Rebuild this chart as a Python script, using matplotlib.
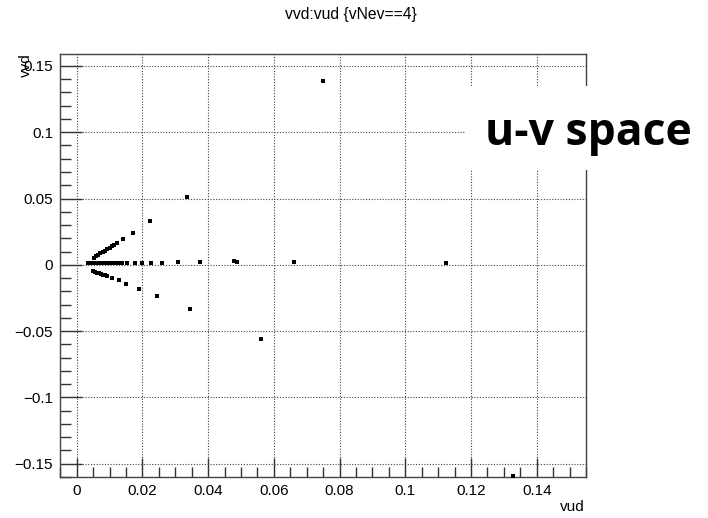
import matplotlib.pyplot as plt
from matplotlib.patches import Rectangle
from matplotlib.ticker import MultipleLocator, FuncFormatter

# points (vud on x, vvd on y)
upper_vud = [0.0051, 0.0058, 0.0065, 0.0072, 0.0079, 0.0086, 0.0093, 0.0100, 0.0107,
             0.0114, 0.0122, 0.0142, 0.0170, 0.0224, 0.0337, 0.0750]
upper_vvd = [0.0055, 0.0066, 0.0076, 0.0086, 0.0097, 0.0107, 0.0118, 0.0128, 0.0139,
             0.0149, 0.0161, 0.0194, 0.0241, 0.0327, 0.0513, 0.1390]

flat_vud = [0.0033, 0.0041, 0.0049, 0.0057, 0.0065, 0.0073, 0.0081, 0.0089, 0.0097,
            0.0105, 0.0113, 0.0121, 0.0129, 0.0137, 0.0154, 0.0177, 0.0199, 0.0225,
            0.0260, 0.0307, 0.0376, 0.0480, 0.0489, 0.0662, 0.1124]
flat_vvd = [0.0012, 0.0012, 0.0012, 0.0012, 0.0012, 0.0012, 0.0012, 0.0012, 0.0012,
            0.0012, 0.0012, 0.0012, 0.0012, 0.0012, 0.0012, 0.0012, 0.0012, 0.0012,
            0.0012, 0.0023, 0.0020, 0.0030, 0.0023, 0.0020, 0.0013]

lower_vud = [0.0050, 0.0056, 0.0062, 0.0068, 0.0074, 0.0080, 0.0086, 0.0092, 0.0107,
             0.0128, 0.0151, 0.0188, 0.0244, 0.0345, 0.0561, 0.1329]
lower_vvd = [-0.0050, -0.0055, -0.0060, -0.0065, -0.0070, -0.0075, -0.0080, -0.0085,
             -0.0103, -0.0118, -0.0143, -0.0181, -0.0234, -0.0330, -0.0556, -0.1590]

title = "vvd:vud {vNev==4}"
overlay = "u-v space"

plt.rcParams['font.family'] = ['Liberation Sans', 'DejaVu Sans']

W, H = 708, 518
fig = plt.figure(figsize=(W / 100, H / 100), dpi=100)
ax = fig.add_axes([60 / W, 1 - 477 / H, (586 - 60) / W, (477 - 54) / H])

for xs, ys in [(upper_vud, upper_vvd), (flat_vud, flat_vvd), (lower_vud, lower_vvd)]:
    ax.plot(xs, ys, ls='none', marker='s', ms=3.2, mfc='black', mec='black', mew=0, zorder=3)

ax.set_xlim(-0.0051, 0.155)
ax.set_ylim(-0.160, 0.159)

ax.xaxis.set_major_locator(MultipleLocator(0.02))
ax.xaxis.set_minor_locator(MultipleLocator(0.005))
ax.yaxis.set_major_locator(MultipleLocator(0.05))
ax.yaxis.set_minor_locator(MultipleLocator(0.01))

def fmt(v, pos):
    if abs(v) < 1e-9:
        return "0"
    s = ("%.3f" % v).rstrip('0')
    return s.replace('-', '\u2212')

ax.xaxis.set_major_formatter(FuncFormatter(fmt))
ax.yaxis.set_major_formatter(FuncFormatter(fmt))

ax.tick_params(which='both', direction='in', top=False, right=False, color='#333333')
ax.tick_params(which='major', axis='x', length=14, width=1, labelsize=11, pad=5)
ax.tick_params(which='major', axis='y', length=16, width=1, labelsize=11, pad=5)
ax.tick_params(which='minor', axis='x', length=7, width=1)
ax.tick_params(which='minor', axis='y', length=8, width=1)
for lab in ax.get_xticklabels() + ax.get_yticklabels():
    lab.set_family(['Liberation Sans Narrow', 'Liberation Sans'])

ax.grid(True, which='major', color='#444444', linestyle=(0, (1, 1.5)), linewidth=0.8)
for sp in ax.spines.values():
    sp.set_color('#444444')
    sp.set_linewidth(1.0)

fig.text(351 / W, 1 - 15 / H, title, ha='center', va='center', fontsize=11.3)
fig.text(585 / W, 1 - 507 / H, "vud", ha='right', va='center', fontsize=11)
fig.text(26 / W, 1 - 53 / H, "vvd", ha='center', va='top', rotation=90, fontsize=11)

# white patch behind the slide label (hides frame and grid there)
fig.patches.append(Rectangle((465 / W, 1 - 170 / H), (708 - 465) / W, 84 / H,
                             transform=fig.transFigure, facecolor='white',
                             edgecolor='none', zorder=5))
fig.text(588 / W, 1 - 145 / H, overlay, ha='center', va='baseline', fontsize=32,
         fontweight='bold', family=['Open Sans', 'DejaVu Sans'], zorder=6)

fig.savefig("out.png", dpi=100)
